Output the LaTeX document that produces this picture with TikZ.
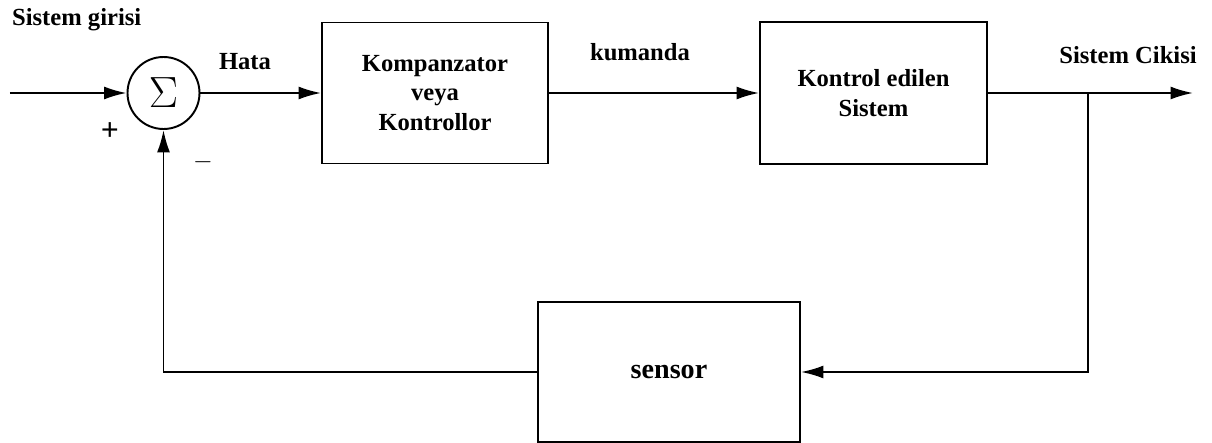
\documentclass[tikz,border=0pt]{standalone}
\usepackage{fontspec}
\setmainfont{Liberation Serif}
\usetikzlibrary{positioning,arrows.meta}

\begin{document}
\begin{tikzpicture}[
  font=\bfseries\fontsize{14}{17}\selectfont,
  block/.style={
    draw, line width=1.1pt,
    minimum width=4.52cm, minimum height=2.82cm,
    align=center, fill=white,
  },
  sumnode/.style={draw, line width=1.1pt, circle, minimum size=1.44cm, inner sep=0pt},
  sig/.style={-{Latex[length=4.5mm,width=2.6mm]}, line width=1.1pt},
  lbl/.style={inner sep=1pt},
]
\useasboundingbox (0,0) rectangle (24.24,8.86);

\coordinate (in) at (0.2,7.0);
\node[sumnode] (sum) at (3.27,7.0) {\fontsize{28}{28}\selectfont$\Sigma$};
\node[block] (komp) at (8.7,7.0) {Kompanzator\\veya\\Kontrollor};
\node[block, minimum width=4.54cm, minimum height=2.84cm] (plant) at (17.47,7.0) {Kontrol edilen\\Sistem};
\coordinate (out) at (23.86,7.0);
\coordinate (branch) at (21.76,7.0);
\node[block, minimum width=5.24cm, minimum height=2.8cm, font=\bfseries\fontsize{16}{18}\selectfont] (sensor) at (13.38,1.42) {sensor};

% signal path
\draw[sig] (in) -- (sum.west);
\draw[sig] (sum.east) -- (komp.west);
\draw[sig] (komp.east) -- (plant.west);
\draw[sig] (plant.east) -- (out);

% feedback
\draw[sig] (branch) |- (sensor.east);
\draw[sig] (sensor.west) -| (sum.south);

% labels
\node[lbl, anchor=west] (girisi) at (0.2,8.46) {Sistem girisi};
\node[lbl] (hata) at (4.9,7.62) {Hata};
\node[lbl] (kumanda) at (12.8,7.82) {kumanda};
\node[lbl] (cikisi) at (22.56,7.76) {Sistem Cikisi};
\node[lbl, font=\bfseries\fontsize{18}{18}\selectfont] (plus) at (2.2,6.22) {+};
\node[lbl] (minus) at (4.06,5.62) {$-$};

\end{tikzpicture}
\end{document}
